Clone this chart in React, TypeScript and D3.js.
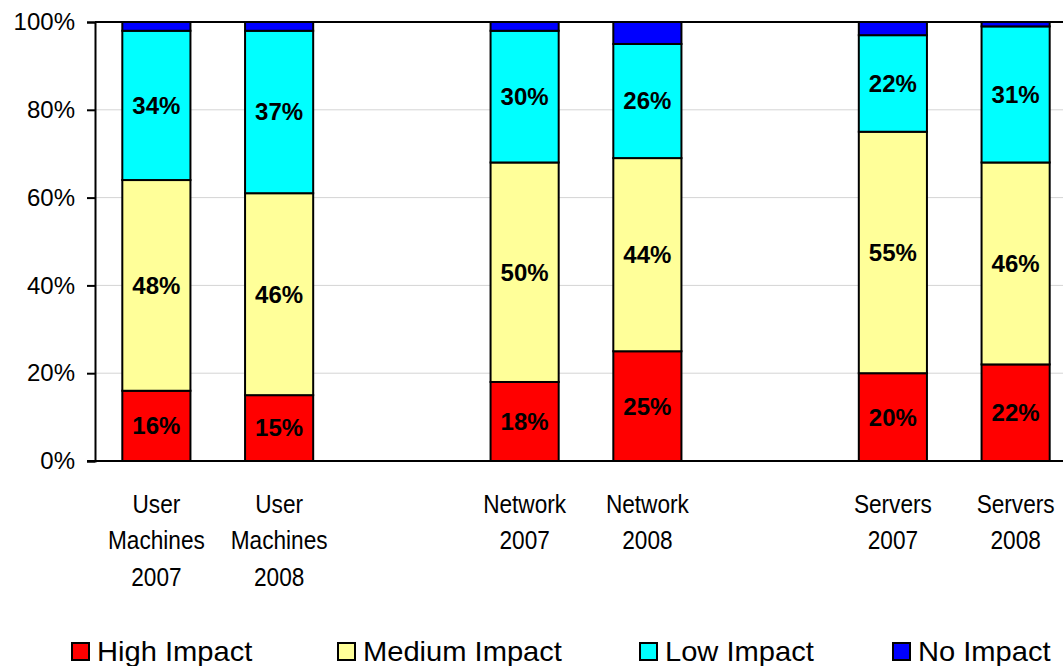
import { useRef, useEffect } from "react";
import * as d3 from "d3";

// categories (blank slots keep the gaps between groups)
const slots = ["um07", "um08", "gapA", "net07", "net08", "gapB", "srv07", "srv08"];
const bars = ["um07", "um08", "net07", "net08", "srv07", "srv08"];
const barLabels = [
  ["User", "Machines", "2007"],
  ["User", "Machines", "2008"],
  ["Network", "2007"],
  ["Network", "2008"],
  ["Servers", "2007"],
  ["Servers", "2008"],
];

// series values, percent
const highImpact = [16, 15, 18, 25, 20, 22];
const mediumImpact = [48, 46, 50, 44, 55, 46];
const lowImpact = [34, 37, 30, 26, 22, 31];
const noImpact = [2, 2, 2, 5, 3, 1];

const seriesNames = ["High Impact", "Medium Impact", "Low Impact", "No Impact"];
const seriesColors = ["#ff0000", "#ffff99", "#00ffff", "#0000ff"];
const yTicks = [0, 20, 40, 60, 80, 100];

const App = () => {
  const svgRef = useRef<SVGSVGElement>(null);

  useEffect(() => {
    const width = 1063;
    const height = 666;
    const svg = d3.select(svgRef.current).attr("width", width).attr("height", height);
    svg.selectAll("*").remove();

    const left = 95;
    const top = 22;
    const bottom = 461;

    const xScale = d3
      .scaleBand()
      .domain(slots)
      .range([left, 1077])
      .paddingInner(0.445)
      .paddingOuter(0.2225);
    const yScale = d3.scaleLinear().domain([0, 100]).range([bottom, top]);

    // gridlines
    svg
      .append("g")
      .selectAll("line")
      .data(yTicks.filter((t) => t > 0 && t < 100))
      .join("line")
      .attr("x1", left)
      .attr("x2", width)
      .attr("y1", (d) => yScale(d))
      .attr("y2", (d) => yScale(d))
      .attr("stroke", "#d4d4d4")
      .attr("stroke-width", 1);

    // top border
    svg
      .append("line")
      .attr("x1", left)
      .attr("x2", width)
      .attr("y1", yScale(100))
      .attr("y2", yScale(100))
      .attr("stroke", "#000")
      .attr("stroke-width", 2);

    // stacked data
    const table = bars.map((b, i) => ({
      key: b,
      high: highImpact[i],
      medium: mediumImpact[i],
      low: lowImpact[i],
      none: noImpact[i],
    }));
    const keys = ["high", "medium", "low", "none"];
    const stacked = d3.stack().keys(keys)(table as any);

    const layers = svg
      .append("g")
      .selectAll("g")
      .data(stacked)
      .join("g")
      .attr("fill", (d, i) => seriesColors[i]);

    layers
      .selectAll("rect")
      .data((d) => d)
      .join("rect")
      .attr("x", (d: any) => xScale(d.data.key)!)
      .attr("width", xScale.bandwidth())
      .attr("y", (d) => yScale(d[1]))
      .attr("height", (d) => yScale(d[0]) - yScale(d[1]))
      .attr("stroke", "#000")
      .attr("stroke-width", 2);

    // value labels (not on No Impact)
    stacked.slice(0, 3).forEach((layer) => {
      svg
        .append("g")
        .selectAll("text")
        .data(layer)
        .join("text")
        .attr("x", (d: any) => xScale(d.data.key)! + xScale.bandwidth() / 2)
        .attr("y", (d) => yScale((d[0] + d[1]) / 2))
        .attr("dy", "0.35em")
        .attr("text-anchor", "middle")
        .attr("font-family", "'Liberation Sans', Arial, sans-serif")
        .attr("font-weight", "bold")
        .attr("font-size", 24)
        .attr("fill", "#000")
        .text((d) => `${d[1] - d[0]}%`);
    });

    // y axis
    const yAxis = d3
      .axisLeft(yScale)
      .tickValues(yTicks)
      .tickSize(8)
      .tickPadding(12)
      .tickFormat((d) => `${d}%`);
    const yG = svg.append("g").attr("transform", `translate(${left},0)`).call(yAxis);
    yG.select(".domain").attr("stroke", "#000").attr("stroke-width", 2);
    yG.selectAll(".tick line").attr("stroke", "#000").attr("stroke-width", 2);
    yG.selectAll(".tick text")
      .attr("font-family", "'Liberation Sans', Arial, sans-serif")
      .attr("font-size", 24)
      .attr("fill", "#000");

    // x axis line
    svg
      .append("line")
      .attr("x1", left - 8)
      .attr("x2", width)
      .attr("y1", bottom)
      .attr("y2", bottom)
      .attr("stroke", "#000")
      .attr("stroke-width", 2);

    // category labels (narrow look: squeezed horizontally)
    const catG = svg
      .append("g")
      .selectAll("g")
      .data(bars)
      .join("g")
      .attr(
        "transform",
        (d) => `translate(${xScale(d)! + xScale.bandwidth() / 2},513) scale(0.87,1)`
      );
    catG
      .append("text")
      .attr("text-anchor", "middle")
      .attr("font-family", "'Liberation Sans', Arial, sans-serif")
      .attr("font-size", 26)
      .attr("fill", "#000")
      .selectAll("tspan")
      .data((d, i) => barLabels[i])
      .join("tspan")
      .attr("x", 0)
      .attr("dy", (d, i) => (i === 0 ? 0 : 36.5))
      .text((d) => d);

    // legend
    const legendX = [72, 338, 640, 893];
    const legend = svg
      .append("g")
      .selectAll("g")
      .data(seriesNames)
      .join("g")
      .attr("transform", (d, i) => `translate(${legendX[i]},643)`);
    legend
      .append("rect")
      .attr("width", 17)
      .attr("height", 17)
      .attr("fill", (d, i) => seriesColors[i])
      .attr("stroke", "#000")
      .attr("stroke-width", 2);
    legend
      .append("text")
      .attr("transform", "translate(25,18) scale(1.04,1)")
      .attr("font-family", "'Liberation Sans', Arial, sans-serif")
      .attr("font-size", 28)
      .attr("fill", "#000")
      .text((d) => d);
  }, []);

  return (
    <svg
      ref={svgRef}
      style={{ position: "absolute", left: 0, top: 0, background: "#fff" }}
    ></svg>
  );
};

export default App;
